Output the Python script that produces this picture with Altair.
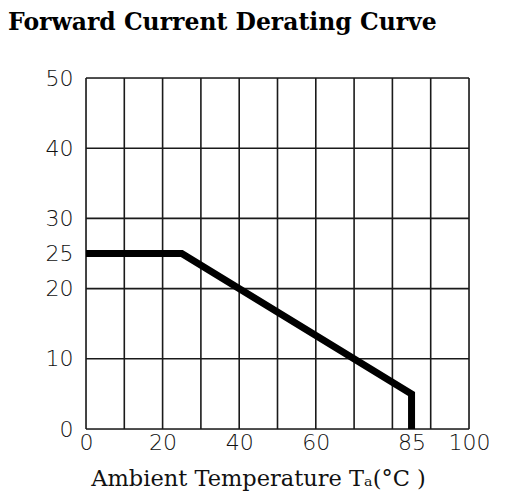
import altair as alt
import pandas as pd

# Derating curve data
temp = [0, 25, 85, 85]
current = [25, 25, 5, 0]

x_labels = [0, 20, 40, 60, 85, 100]
y_labels = [0, 10, 20, 25, 30, 40, 50]
grid_x = [0, 10, 20, 30, 40, 50, 60, 70, 80, 90, 100]
grid_y = [0, 10, 20, 30, 40, 50]

curve = pd.DataFrame({"temp": temp, "current": current, "order": list(range(len(temp)))})
gx = pd.DataFrame({"temp": grid_x})
gy = pd.DataFrame({"current": grid_y})

xscale = alt.Scale(domain=[0, 100], nice=False, zero=False)
yscale = alt.Scale(domain=[0, 50], nice=False, zero=False)

gridcol = "#1a1a1a"

xaxis = alt.Axis(
    values=x_labels,
    grid=False,
    ticks=False,
    tickSize=0,
    domain=False,
    labelPadding=3,
    labelFont="DejaVu Sans",
    labelFontSize=22,
    labelFontWeight=200,
    labelColor="#111",
    labelFlush=False,
    title="Ambient Temperature Tₐ(°C )",
    titleFont="DejaVu Serif",
    titleFontSize=22.5,
    titleFontWeight="normal",
    titleColor="#111",
    titleAnchor="start",
    titleAlign="center",
    titleBaseline="alphabetic",
    titleX=172,
    titleY=56,
)
yaxis = alt.Axis(
    values=y_labels,
    grid=False,
    ticks=False,
    tickSize=0,
    domain=False,
    labelPadding=13,
    labelFont="DejaVu Sans",
    labelFontSize=22,
    labelFontWeight=200,
    labelColor="#111",
    labelFlush=False,
    title=None,
)

vgrid = alt.Chart(gx).mark_rule(color=gridcol, strokeWidth=1.6).encode(
    x=alt.X("temp:Q", scale=xscale, axis=xaxis)
)
hgrid = alt.Chart(gy).mark_rule(color=gridcol, strokeWidth=1.6).encode(
    y=alt.Y("current:Q", scale=yscale, axis=yaxis)
)

line = alt.Chart(curve).mark_line(
    color="black", strokeWidth=7, strokeJoin="miter", strokeCap="butt"
).encode(
    x=alt.X("temp:Q", scale=xscale, axis=xaxis),
    y=alt.Y("current:Q", scale=yscale, axis=yaxis),
    order="order:O",
)

chart = alt.layer(vgrid, hgrid, line).properties(
    width=383,
    height=351,
    autosize=alt.AutoSizeParams(type="none"),
    padding={"left": 78, "top": 70, "right": 20, "bottom": 64},
    title=alt.TitleParams(
        "Forward Current Derating Curve",
        font="DejaVu Serif",
        fontSize=23.5,
        fontWeight=600,
        color="black",
        anchor="start",
        frame="group",
        dx=-78,
        baseline="alphabetic",
        offset=14,
    ),
).configure_view(stroke=gridcol, strokeWidth=1.6).configure(background="white")

chart.save("out.html", embed_options={"renderer": "svg", "actions": False})
